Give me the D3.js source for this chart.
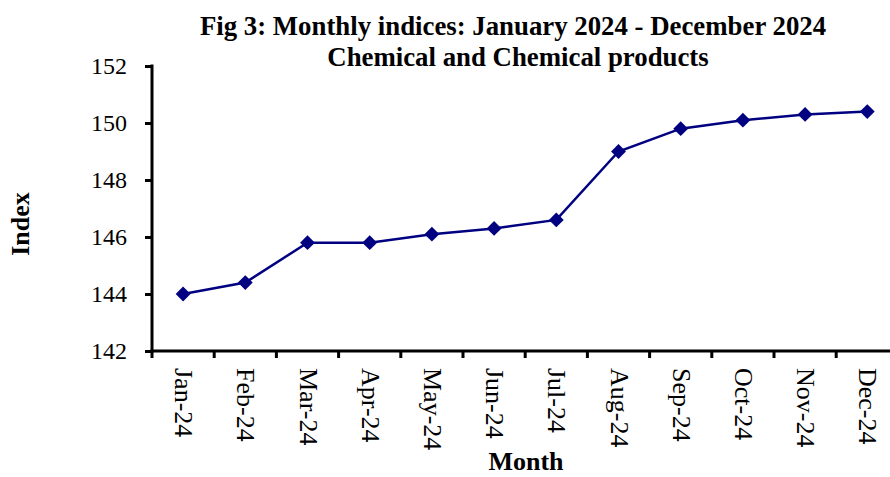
<!DOCTYPE html>
<html>
<head>
<meta charset="utf-8">
<script src="https://cdn.jsdelivr.net/npm/d3@7"></script>
<style>
  body { margin: 0; background: #fff; }
  svg { display: block; font-family: "Liberation Serif", "Times New Roman", serif; }
</style>
</head>
<body>
<svg id="chart"></svg>
<script>
// data
var months = ["Jan-24", "Feb-24", "Mar-24", "Apr-24", "May-24", "Jun-24",
              "Jul-24", "Aug-24", "Sep-24", "Oct-24", "Nov-24", "Dec-24"];
var indexValues = [144.0, 144.4, 145.8, 145.8, 146.1, 146.3,
                   146.6, 149.0, 149.8, 150.1, 150.3, 150.4];
var yTicks = [142, 144, 146, 148, 150, 152];

var width = 890, height = 477;
var plotLeft = 152, plotTop = 66, plotBottom = 351;
var bandW = 62.2;
var serif = "Liberation Serif, Times New Roman, serif";

var svg = d3.select("#chart").attr("width", width).attr("height", height);

var x = d3.scaleBand()
    .domain(months)
    .range([plotLeft, plotLeft + bandW * months.length]);
var y = d3.scaleLinear().domain([142, 152]).range([plotBottom, plotTop]);

// title
svg.append("text")
    .attr("x", 513).attr("y", 35)
    .attr("text-anchor", "middle")
    .attr("font-size", 26.8).attr("font-weight", "bold")
    .text("Fig 3: Monthly indices: January 2024 - December 2024");
svg.append("text")
    .attr("x", 518).attr("y", 66)
    .attr("text-anchor", "middle")
    .attr("font-size", 26.8).attr("font-weight", "bold")
    .text("Chemical and Chemical products");

// y axis
var yAxis = svg.append("g")
    .attr("transform", "translate(" + plotLeft + ",0)")
    .call(d3.axisLeft(y).tickValues(yTicks).tickSize(7).tickPadding(18).tickFormat(d3.format("d")));
yAxis.select(".domain").attr("stroke", "#000").attr("stroke-width", 3)
    .attr("d", "M0," + (plotTop - 1.5) + "V" + (plotBottom + 1.5));
yAxis.selectAll(".tick line").attr("stroke", "#000").attr("stroke-width", 3);
yAxis.selectAll(".tick text")
    .attr("font-size", 24).attr("font-family", serif).attr("fill", "#000")
    .attr("dy", "0.33em");

// x axis
var xAxis = svg.append("g")
    .attr("transform", "translate(0," + plotBottom + ")");
xAxis.append("path")
    .attr("stroke", "#000").attr("stroke-width", 3).attr("fill", "none")
    .attr("d", "M" + (plotLeft - 1.5) + ",0H" + (plotLeft + bandW * months.length));
// tick marks between categories
var edges = d3.range(months.length + 1).map(function(i) { return plotLeft + i * bandW; });
xAxis.selectAll(".edge")
    .data(edges)
    .enter().append("line")
    .attr("x1", function(d) { return d; }).attr("x2", function(d) { return d; })
    .attr("y1", 0).attr("y2", 7)
    .attr("stroke", "#000").attr("stroke-width", 3);
xAxis.selectAll(".mlabel")
    .data(months)
    .enter().append("text")
    .attr("transform", function(d) {
        return "translate(" + (x(d) + x.bandwidth() / 2 - 8) + ",17) rotate(90)";
    })
    .attr("font-size", 26).attr("font-family", serif).attr("fill", "#000")
    .attr("text-anchor", "start")
    .text(function(d) { return d; });

// axis titles
svg.append("text")
    .attr("transform", "translate(29,224) rotate(-90)")
    .attr("text-anchor", "middle")
    .attr("font-size", 26).attr("font-weight", "bold")
    .text("Index");
svg.append("text")
    .attr("x", 526).attr("y", 470)
    .attr("text-anchor", "middle")
    .attr("font-size", 26).attr("font-weight", "bold")
    .text("Month");

// series
var line = d3.line()
    .x(function(d, i) { return x(months[i]) + x.bandwidth() / 2; })
    .y(function(d) { return y(d); });

svg.append("path")
    .datum(indexValues)
    .attr("fill", "none")
    .attr("stroke", "#000080")
    .attr("stroke-width", 2.5)
    .attr("d", line);

svg.selectAll(".pt")
    .data(indexValues)
    .enter().append("path")
    .attr("class", "pt")
    .attr("transform", function(d, i) {
        return "translate(" + (x(months[i]) + x.bandwidth() / 2) + "," + y(d) + ")";
    })
    .attr("d", d3.symbol().type(d3.symbolDiamond2).size(140))
    .attr("fill", "#000080");
</script>
</body>
</html>
